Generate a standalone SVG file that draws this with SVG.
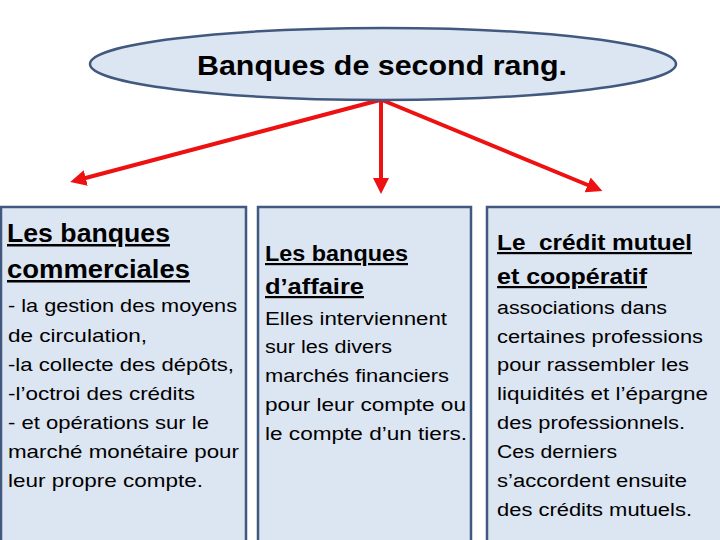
<svg xmlns="http://www.w3.org/2000/svg" width="720" height="540" viewBox="0 0 720 540">
<defs>
<style>
.box{fill:#dce5f2;stroke:#42597f;stroke-width:2.5}
text{font-family:"Liberation Sans",Arial,sans-serif;fill:#000}
.t1{font-size:25px;font-weight:bold;text-decoration:underline}
.t2{font-size:22px;font-weight:bold;text-decoration:underline}
.b{font-size:19px}
.b2{font-size:18px}
.arr{stroke:#ee1111;stroke-width:4;fill:none;marker-end:url(#ah)}
</style>
<marker id="ah" viewBox="0 0 10 10" refX="5" refY="5" markerWidth="4" markerHeight="4" orient="auto" markerUnits="strokeWidth">
<path d="M0,0 L10,5 L0,10 z" fill="#ee1111"/>
</marker>
</defs>
<g id="connectors">
<line class="arr" x1="380" y1="100" x2="78" y2="180"/>
<line class="arr" x1="381" y1="100" x2="381" y2="186"/>
<line class="arr" x1="382" y1="100" x2="595" y2="188"/>
</g>
<g id="top">
<ellipse cx="383" cy="64" rx="293" ry="36" fill="#dce5f2" stroke="#42597f" stroke-width="2.5"/>
<text x="197" y="75" font-size="27" font-weight="bold" textLength="370" lengthAdjust="spacingAndGlyphs">Banques de second rang.</text>
</g>
<g id="box1">
<rect class="box" x="1" y="207" width="245" height="340"/>
<text class="t1" x="7" y="242" textLength="163" lengthAdjust="spacingAndGlyphs">Les banques</text>
<text class="t1" x="7" y="278" textLength="183" lengthAdjust="spacingAndGlyphs">commerciales</text>
<g class="b">
<text class="b" x="8" y="312" textLength="229" lengthAdjust="spacingAndGlyphs">- la gestion des moyens</text>
<text class="b" x="8" y="342" textLength="139" lengthAdjust="spacingAndGlyphs">de circulation,</text>
<text class="b" x="8" y="371" textLength="226" lengthAdjust="spacingAndGlyphs">-la collecte des dépôts,</text>
<text class="b" x="8" y="400" textLength="187" lengthAdjust="spacingAndGlyphs">-l’octroi des crédits</text>
<text class="b" x="8" y="429" textLength="201" lengthAdjust="spacingAndGlyphs">- et opérations sur le</text>
<text class="b" x="8" y="458" textLength="231" lengthAdjust="spacingAndGlyphs">marché monétaire pour</text>
<text class="b" x="8" y="487" textLength="195" lengthAdjust="spacingAndGlyphs">leur propre compte.</text>
</g>
</g>
<g id="box2">
<rect class="box" x="258" y="207" width="213" height="340"/>
<text class="t2" x="265" y="261" textLength="143" lengthAdjust="spacingAndGlyphs">Les banques</text>
<text class="t2" x="265" y="294" textLength="99" lengthAdjust="spacingAndGlyphs">d’affaire</text>
<text class="b2" x="265" y="325" textLength="182" lengthAdjust="spacingAndGlyphs">Elles interviennent</text>
<text class="b2" x="265" y="353" textLength="127" lengthAdjust="spacingAndGlyphs">sur les divers</text>
<text class="b2" x="265" y="382" textLength="184" lengthAdjust="spacingAndGlyphs">marchés financiers</text>
<text class="b2" x="265" y="411" textLength="201" lengthAdjust="spacingAndGlyphs">pour leur compte ou</text>
<text class="b2" x="265" y="440" textLength="202" lengthAdjust="spacingAndGlyphs">le compte d’un tiers.</text>
</g>
<g id="box3">
<rect class="box" x="487" y="207" width="240" height="340"/>
<text class="t2" x="497" y="250" textLength="195" lengthAdjust="spacingAndGlyphs" xml:space="preserve">Le  crédit mutuel</text>
<text class="t2" x="497" y="284" textLength="150" lengthAdjust="spacingAndGlyphs">et coopératif</text>
<text class="b2" x="497" y="314" textLength="170" lengthAdjust="spacingAndGlyphs">associations dans</text>
<text class="b2" x="497" y="343" textLength="206" lengthAdjust="spacingAndGlyphs">certaines professions</text>
<text class="b2" x="497" y="371" textLength="192" lengthAdjust="spacingAndGlyphs">pour rassembler les</text>
<text class="b2" x="497" y="400" textLength="211" lengthAdjust="spacingAndGlyphs">liquidités et l’épargne</text>
<text class="b2" x="497" y="429" textLength="188" lengthAdjust="spacingAndGlyphs">des professionnels.</text>
<text class="b2" x="497" y="458" textLength="120" lengthAdjust="spacingAndGlyphs">Ces derniers</text>
<text class="b2" x="497" y="487" textLength="190" lengthAdjust="spacingAndGlyphs">s’accordent ensuite</text>
<text class="b2" x="497" y="516" textLength="195" lengthAdjust="spacingAndGlyphs">des crédits mutuels.</text>
</g>
</svg>
